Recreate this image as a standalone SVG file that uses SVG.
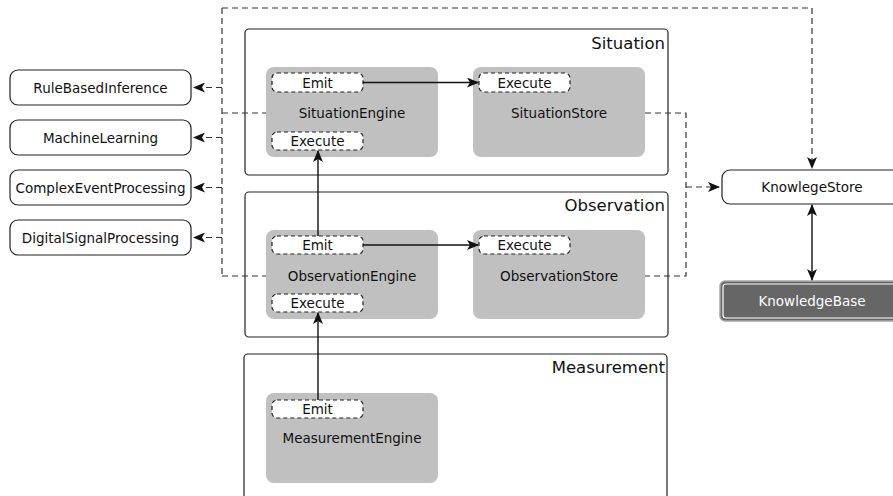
<svg xmlns="http://www.w3.org/2000/svg" width="893" height="496" viewBox="0 0 893 496">
<defs>
<style>
text{font-family:"DejaVu Sans","Liberation Sans",sans-serif;fill:#111}
.lbl{font-size:13.5px;text-anchor:middle;dominant-baseline:central}
.title{font-size:16.5px;text-anchor:end}
.box{fill:#fff;stroke:#222;stroke-width:1.2}
.cont{fill:#fff;stroke:#222;stroke-width:1.2}
.eng{fill:#c0c0c0}
.port{fill:#fff;stroke:#222;stroke-width:1.2;stroke-dasharray:4,3}
.solid{fill:none;stroke:#111;stroke-width:1.4}
.dash{fill:none;stroke:#333;stroke-width:1.2;stroke-dasharray:6,4}
</style>
<marker id="ah" viewBox="0 0 12 10" refX="11" refY="5" markerWidth="12" markerHeight="10" markerUnits="userSpaceOnUse" orient="auto-start-reverse">
<path d="M0,0 L12,5 L0,10 L3,5 z" fill="#111"/>
</marker>
</defs>

<g id="RuleBasedInference"><rect class="box" x="10" y="70" width="181" height="35" rx="8"/><text class="lbl" x="100.5" y="87.5">RuleBasedInference</text></g>
<g id="MachineLearning"><rect class="box" x="10" y="120" width="181" height="35" rx="8"/><text class="lbl" x="100.5" y="137.5">MachineLearning</text></g>
<g id="ComplexEventProcessing"><rect class="box" x="10" y="170" width="181" height="35" rx="8"/><text class="lbl" x="100.5" y="187.5">ComplexEventProcessing</text></g>
<g id="DigitalSignalProcessing"><rect class="box" x="10" y="220" width="181" height="35" rx="8"/><text class="lbl" x="100.5" y="237.5">DigitalSignalProcessing</text></g>

<g id="Situation"><rect class="cont" x="245" y="29" width="423" height="146" rx="4"/><text class="title" x="665" y="49">Situation</text></g>
<g id="Observation"><rect class="cont" x="245" y="192" width="423" height="145" rx="4"/><text class="title" x="665" y="211">Observation</text></g>
<g id="Measurement"><rect class="cont" x="244" y="354" width="423" height="160" rx="4"/><text class="title" x="665" y="373">Measurement</text></g>

<g id="SituationEngine"><rect class="eng" x="266" y="67" width="172" height="90" rx="8"/><text class="lbl" x="352" y="113">SituationEngine</text>
<g id="SituationEngine_Emit"><rect class="port" x="272" y="73" width="91" height="19" rx="5"/><text class="lbl" x="317.5" y="82.5">Emit</text></g>
<g id="SituationEngine_Execute"><rect class="port" x="272" y="132" width="91" height="18" rx="5"/><text class="lbl" x="317.5" y="141">Execute</text></g></g>
<g id="SituationStore"><rect class="eng" x="473" y="67" width="172" height="90" rx="8"/><text class="lbl" x="559" y="113">SituationStore</text>
<g id="SituationStore_Execute"><rect class="port" x="479" y="73" width="91" height="19" rx="5"/><text class="lbl" x="524.5" y="82.5">Execute</text></g></g>

<g id="ObservationEngine"><rect class="eng" x="266" y="230" width="172" height="89" rx="8"/><text class="lbl" x="352" y="276">ObservationEngine</text>
<g id="ObservationEngine_Emit"><rect class="port" x="272" y="236" width="91" height="18" rx="5"/><text class="lbl" x="317.5" y="245">Emit</text></g>
<g id="ObservationEngine_Execute"><rect class="port" x="272" y="294" width="91" height="18" rx="5"/><text class="lbl" x="317.5" y="303">Execute</text></g></g>
<g id="ObservationStore"><rect class="eng" x="473" y="230" width="172" height="89" rx="8"/><text class="lbl" x="559" y="276">ObservationStore</text>
<g id="ObservationStore_Execute"><rect class="port" x="479" y="236" width="91" height="18" rx="5"/><text class="lbl" x="524.5" y="245">Execute</text></g></g>

<g id="MeasurementEngine"><rect class="eng" x="266" y="393" width="172" height="90" rx="8"/><text class="lbl" x="352" y="438">MeasurementEngine</text>
<g id="MeasurementEngine_Emit"><rect class="port" x="272" y="400" width="91" height="18" rx="5"/><text class="lbl" x="317.5" y="409">Emit</text></g></g>

<g id="KnowlegeStore"><rect class="box" x="722" y="170" width="182" height="34" rx="8"/><text class="lbl" x="812" y="187">KnowlegeStore</text></g>
<g id="KnowledgeBase"><rect x="720" y="281" width="186" height="40" rx="5" fill="#666" stroke="#aaa" stroke-width="1.5"/><rect x="723" y="284" width="180" height="34" rx="3" fill="none" stroke="#fff" stroke-width="1.2"/><text class="lbl" x="812" y="301" style="fill:#fff">KnowledgeBase</text></g>

<g id="connectors">
<path class="solid" d="M363,82.5 H478" marker-end="url(#ah)"/>
<path class="solid" d="M363,245 H478" marker-end="url(#ah)"/>
<path class="solid" d="M318,236 V151" marker-end="url(#ah)"/>
<path class="solid" d="M318,400 V313" marker-end="url(#ah)"/>
<path class="dash" d="M222,8 V276"/>
<path class="dash" d="M222,113 H266"/>
<path class="dash" d="M222,276 H266"/>
<path class="dash" d="M222,87.5 H194" marker-end="url(#ah)"/>
<path class="dash" d="M222,137.5 H194" marker-end="url(#ah)"/>
<path class="dash" d="M222,187.5 H194" marker-end="url(#ah)"/>
<path class="dash" d="M222,237.5 H194" marker-end="url(#ah)"/>
<path class="dash" d="M222,8 H812 V168" marker-end="url(#ah)"/>
<path class="dash" d="M645,113 H686 V276 H645"/>
<path class="dash" d="M686,187 H719" marker-end="url(#ah)"/>
<path class="solid" d="M812,205 V280" marker-start="url(#ah)" marker-end="url(#ah)"/>
</g>
</svg>
